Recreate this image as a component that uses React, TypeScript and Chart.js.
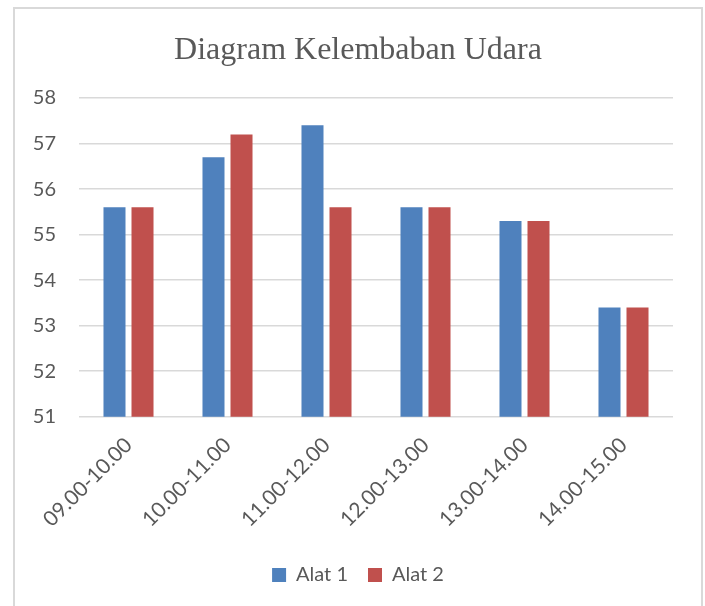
import React, { useEffect, useRef } from "react";
import { Chart, registerables } from "chart.js";

Chart.register(...registerables);

const categories = ["09.00-10.00", "10.00-11.00", "11.00-12.00", "12.00-13.00", "13.00-14.00", "14.00-15.00"];
const alat1 = [55.6, 56.7, 57.4, 55.6, 55.3, 53.4];
const alat2 = [55.6, 57.2, 55.6, 55.6, 55.3, 53.4];
const seriesNames = ["Alat 1", "Alat 2"];
const yMin = 51;
const yMax = 58;
const yStep = 1;
const titleText = "Diagram Kelembaban Udara";

const TEXT = "#595959";
const GRID = "#d9d9d9";
const FONT = "Lato, 'Noto Sans', sans-serif";

export default function App() {
  const ref = useRef<HTMLCanvasElement | null>(null);

  useEffect(() => {
    if (!ref.current) return;
    const chart = new Chart(ref.current, {
      type: "bar",
      data: {
        labels: categories,
        datasets: [
          {
            label: seriesNames[0],
            data: alat1,
            backgroundColor: "#4F81BD",
            categoryPercentage: 0.566,
            barPercentage: 0.786,
          },
          {
            label: seriesNames[1],
            data: alat2,
            backgroundColor: "#C0504D",
            categoryPercentage: 0.566,
            barPercentage: 0.786,
          },
        ],
      },
      options: {
        responsive: false,
        animation: false,
        devicePixelRatio: 1,
        layout: { padding: { left: 14, right: 14, top: 0, bottom: 11 } },
        plugins: {
          title: {
            display: true,
            text: titleText,
            color: TEXT,
            font: { family: "'Liberation Serif', 'Times New Roman', serif", size: 32, weight: "normal" },
            padding: { top: 22.8, bottom: 27.8 },
          },
          legend: {
            position: "bottom",
            labels: {
              color: TEXT,
              font: { family: FONT, size: 20 },
              boxWidth: 14,
              boxHeight: 14,
              padding: 20,
            },
          },
          tooltip: { enabled: false },
        },
        scales: {
          x: {
            grid: { display: false },
            border: { display: false },
            ticks: {
              color: TEXT,
              font: { family: FONT, size: 21 },
              minRotation: 45,
              maxRotation: 45,
              padding: 8,
            },
            afterFit: (s: any) => {
              s.height = 128.3;
            },
          },
          y: {
            min: yMin,
            max: yMax,
            grid: { color: GRID, lineWidth: 1.5, drawTicks: false },
            border: { display: false },
            ticks: {
              stepSize: yStep,
              color: TEXT,
              font: { family: FONT, size: 20 },
              padding: 23,
            },
            afterFit: (s: any) => {
              s.width = 50;
            },
          },
          yRight: {
            type: "linear",
            position: "right",
            display: true,
            grid: { display: false, drawTicks: false },
            border: { display: false },
            ticks: { display: false },
            afterFit: (s: any) => {
              s.width = 14;
            },
          },
        },
      },
    });
    return () => chart.destroy();
  }, []);

  return (
    <div
      style={{
        position: "absolute",
        left: 13,
        top: 7,
        width: 690,
        height: 599,
        boxSizing: "border-box",
        border: `2px solid ${GRID}`,
        borderBottom: "none",
        background: "#fff",
        overflow: "hidden",
      }}
    >
      <canvas ref={ref} width={686} height={597} style={{ display: "block", width: 686, height: 597 }} />
    </div>
  );
}
